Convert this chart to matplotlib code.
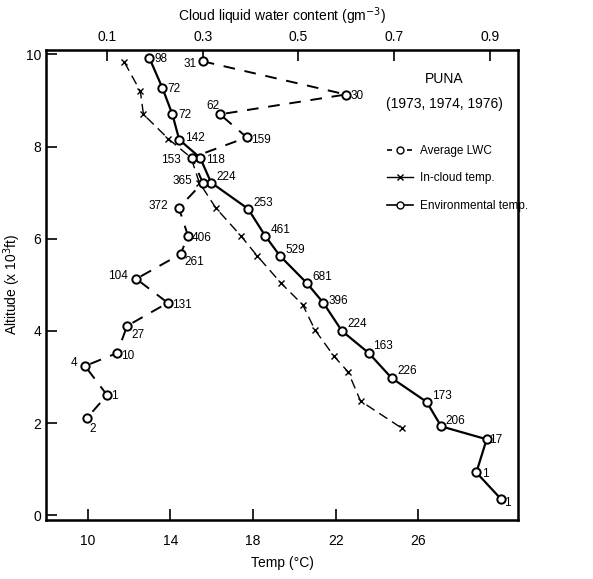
import matplotlib.pyplot as plt
from matplotlib.lines import Line2D

plt.rcParams["font.family"] = ["Liberation Sans", "DejaVu Sans"]

# Environmental temperature (solid, open circles)
env_temp = [12.98, 13.61, 14.10, 14.43, 15.44, 15.97, 17.76, 18.58, 19.30, 20.6,
            21.4, 22.3, 23.6, 24.7, 26.4, 27.1, 29.3, 28.8, 30.0]
env_alt = [9.93, 9.28, 8.70, 8.15, 7.76, 7.22, 6.65, 6.07, 5.63, 5.04,
           4.61, 4.0, 3.52, 2.98, 2.46, 1.93, 1.65, 0.93, 0.35]
env_n = ["98", "72", "72", "142", "118", "224", "253", "461", "529", "681",
         "396", "224", "163", "226", "173", "206", "17", "1", "1"]

# In-cloud temperature (dashed, x markers)
cloud_temp = [11.78, 12.55, 12.70, 13.90, 15.0, 15.4, 16.2, 17.4, 18.2, 19.35,
              20.4, 21.0, 21.9, 22.6, 23.2, 25.2]
cloud_alt = [9.83, 9.2, 8.7, 8.17, 7.76, 7.22, 6.67, 6.07, 5.63, 5.04,
             4.57, 4.02, 3.46, 3.11, 2.48, 1.89]

# Average LWC (dashed, open circles) on the top axis
lwc = [0.30, 0.599, 0.336, 0.392, 0.277, 0.30, 0.25, 0.269, 0.254, 0.161,
       0.227, 0.142, 0.121, 0.054, 0.10, 0.058]
lwc_alt = [9.85, 9.13, 8.7, 8.2, 7.76, 7.22, 6.67, 6.07, 5.67, 5.13,
           4.61, 4.11, 3.52, 3.24, 2.61, 2.11]
lwc_n = ["31", "30", "62", "159", "153", "365", "372", "406", "261", "104",
         "131", "27", "10", "4", "1", "2"]

temp_ticks = [10, 14, 18, 22, 26]
alt_ticks = [0, 2, 4, 6, 8, 10]
lwc_ticks = [0.1, 0.3, 0.5, 0.7, 0.9]

# label placement (offset points)
env_off = [(4, -3), (4, -3), (4, -3), (4, -1), (4, -4), (4, 2), (4, 2), (4, 2), (4, 2), (4, 2),
           (4, -1), (4, 3), (3, 3), (4, 3), (4, 2), (3, 2), (2, -3), (4, -3), (2, -5)]
lwc_off = [(-14, -4), (3, -3), (-10, 4), (3, -4), (-22, -4), (-22, -1), (-22, -1), (3, -4),
           (3, -8), (-20, 0), (3, -4), (3, -9), (3, -4), (-10, 0), (3, -3), (2, -10)]

fig = plt.figure(figsize=(5.93, 5.79), dpi=100)
ax = fig.add_axes([0.078, 0.102, 0.795, 0.812])

ax.plot(env_temp, env_alt, color="black", lw=1.6, marker="o", ms=6,
        mfc="white", mec="black", mew=1.4, zorder=4)
ax.plot(cloud_temp, cloud_alt, color="black", lw=1.0, ls=(0, (7, 4)),
        marker="x", ms=4, mew=1.0, zorder=3)
for t, a, n, o in zip(env_temp, env_alt, env_n, env_off):
    ax.annotate(n, (t, a), xytext=o, textcoords="offset points", fontsize=8.5)

ax.set_xlim(8, 30.8)
ax.set_ylim(-0.1, 10.1)
ax.set_xticks(temp_ticks)
ax.set_yticks(alt_ticks)
ax.tick_params(axis="both", direction="in", length=8, width=1.2, labelsize=10)
ax.tick_params(axis="x", pad=10)
ax.set_xlabel("Temp (°C)", fontsize=10, labelpad=6)
ax.set_ylabel("Altitude (x 10$^3$ft)", fontsize=10, labelpad=2)
for s in ax.spines.values():
    s.set_linewidth(1.8)

ax2 = ax.twiny()
ax2.plot(lwc, lwc_alt, color="black", lw=1.4, ls=(0, (6, 5)), marker="o", ms=6,
         mfc="white", mec="black", mew=1.4, zorder=4)
for v, a, n, o in zip(lwc, lwc_alt, lwc_n, lwc_off):
    ax2.annotate(n, (v, a), xytext=o, textcoords="offset points", fontsize=8.5)
ax2.set_xlim(-0.027, 0.958)
ax2.set_xticks(lwc_ticks)
ax2.set_xticklabels(["0.1", "0.3", "0.5", "0.7", "0.9"])
ax2.tick_params(axis="x", direction="in", length=8, width=1.2, labelsize=10, pad=4)
ax2.set_xlabel("Cloud liquid water content (gm$^{-3}$)", fontsize=10, labelpad=7)

ax.text(0.845, 0.93, "PUNA", transform=ax.transAxes, ha="center", fontsize=10)
ax.text(0.845, 0.877, "(1973, 1974, 1976)", transform=ax.transAxes, ha="center", fontsize=10)

handles = [
    Line2D([], [], color="black", lw=1.2, ls=(0, (3, 3)), marker="o", ms=5, mfc="white"),
    Line2D([], [], color="black", lw=1.0, ls="-", marker="x", ms=4),
    Line2D([], [], color="black", lw=1.2, marker="o", ms=5, mfc="white"),
]
ax.legend(handles, ["Average LWC", "In-cloud temp.", "Environmental temp."],
          loc="upper left", bbox_to_anchor=(0.70, 0.82), frameon=False,
          fontsize=8.5, handlelength=2.2, labelspacing=1.3, handletextpad=0.6)

fig.savefig("out.png", dpi=100)
